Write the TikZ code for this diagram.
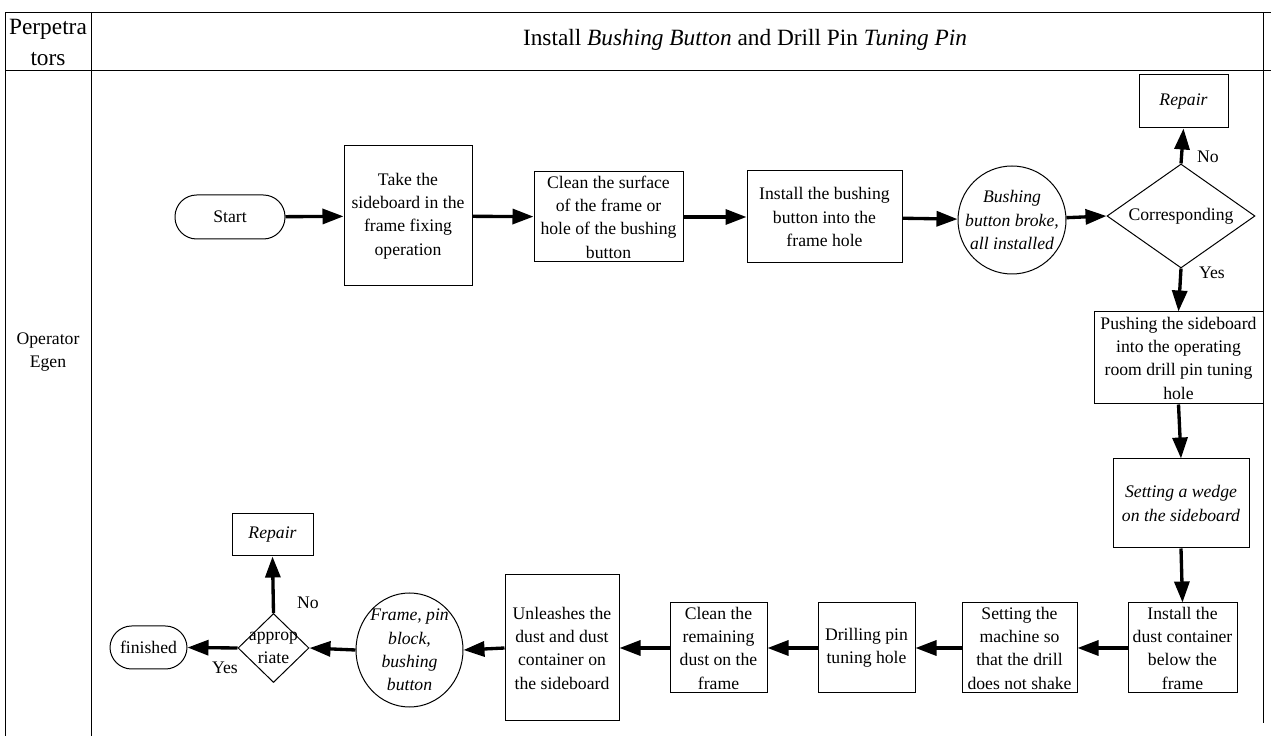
\documentclass[tikz,border=0pt]{standalone}
\usepackage{fontspec}
\setmainfont{Liberation Serif}
\usetikzlibrary{shapes.geometric,arrows.meta}

\begin{document}
\begin{tikzpicture}[x=0.6pt,y=-0.6pt,
  every node/.style={font=\fontsize{10.6}{14}\selectfont,inner sep=0pt,align=center},
  sz/.style 2 args={minimum width=#1*0.6pt,minimum height=#2*0.6pt},
  box/.style={draw,rectangle,line width=0.6pt},
  term/.style={draw,rectangle,rounded corners=13pt,line width=0.6pt},
  circ/.style={draw,ellipse,line width=0.6pt},
  itl/.style={font=\fontsize{10.6}{14}\selectfont\itshape},
  dec/.style={draw,diamond,line width=0.6pt},
  head/.style={font=\fontsize{14}{18.6}\selectfont},
  flow/.style={line width=2pt,-{Triangle[length=12.6pt,width=9pt]}},
  grid/.style={line width=0.6pt}
]
\useasboundingbox (0,0) rectangle (1271,736);

% swimlane table
\draw[grid] (5,736) -- (5,13) -- (1271,13);
\draw[grid] (5,71) -- (1271,71);
\draw[grid] (91,13) -- (91,736);
\draw[grid] (1263,13) -- (1263,723);
\node[head] (hcol) at (48,42) {Perpetra\\tors};
\node[head] (htitle) at (745,40) {Install \textit{Bushing Button} and Drill Pin \textit{Tuning Pin}};
\node (lane) at (48,352) {Operator\\Egen};

% upper row
\node[term,sz={110}{44}] (start) at (230,217) {Start};
\node[box,sz={128}{140}] (take) at (408,216) {Take the\\sideboard in the\\frame fixing\\operation};
\node[box,sz={149}{90}] (clean1) at (608.5,217) {Clean the surface\\of the frame or\\hole of the bushing\\button};
\node[box,sz={155}{92}] (inst1) at (824.5,217) {Install the bushing\\button into the\\frame hole};
\node[circ,sz={108}{108}] (circ1) at (1012,220) {};
\node[itl] (circ1t) at (circ1) {Bushing\\button broke,\\all installed};
\node[dec,sz={148}{104}] (diam1) at (1181,216) {};
\node (diam1t) at (diam1) {Corresponding};
\node[box,itl,sz={89}{53}] (rep1) at (1183.5,101.5) {Repair};
\node (no1) at (1208,157) {No};
\node (yes1) at (1212,273) {Yes};

% right column
\node[box,sz={169}{92}] (push) at (1178.5,358) {Pushing the sideboard\\into the operating\\room drill pin tuning\\hole};
\node[box,itl,sz={136}{89}] (wedge) at (1181,503.5) {Setting a wedge\\on the sideboard};

% lower row
\node[box,sz={109}{90}] (cont) at (1182.5,648) {Install the\\dust container\\below the\\frame};
\node[box,sz={115}{90}] (mach) at (1019.5,648) {Setting the\\machine so\\that the drill\\does not shake};
\node[box,sz={97}{90}] (drill) at (866.5,648) {Drilling pin\\tuning hole};
\node[box,sz={97}{90}] (clean2) at (718.5,648) {Clean the\\remaining\\dust on the\\frame};
\node[box,sz={114}{146}] (unl) at (562,648) {Unleashes the\\dust and dust\\container on\\the sideboard};
\node[circ,sz={107}{114}] (circ2) at (409.5,650) {};
\node[itl] (circ2t) at (circ2) {Frame, pin\\block,\\bushing\\button};
\node[dec,sz={71}{69}] (diam2) at (273.5,648) {};
\node (diam2t) at (diam2) {approp\\riate};
\node[box,itl,sz={81}{42}] (rep2) at (272.5,535) {Repair};
\node[term,sz={77}{43}] (fin) at (148.5,647.5) {finished};
\node (no2) at (308,603) {No};
\node (yes2) at (225,668) {Yes};

% connectors
\draw[flow] (start) -- (take);
\draw[flow] (take) -- (clean1);
\draw[flow] (clean1) -- (inst1);
\draw[flow] (inst1) -- (circ1);
\draw[flow] (circ1) -- (diam1.west);
\draw[flow] (diam1.north) -- (rep1.south);
\draw[flow] (diam1.south) -- (push.north);
\draw[flow] (push.south) -- (wedge.north);
\draw[flow] (wedge.south) -- (cont.north);
\draw[flow] (cont) -- (mach);
\draw[flow] (mach) -- (drill);
\draw[flow] (drill) -- (clean2);
\draw[flow] (clean2) -- (unl);
\draw[flow] (unl.west) -- (circ2.east);
\draw[flow] (circ2.west) -- (diam2.east);
\draw[flow] (diam2.north) -- (rep2.south);
\draw[flow] (diam2.west) -- (fin.east);
\end{tikzpicture}
\end{document}
